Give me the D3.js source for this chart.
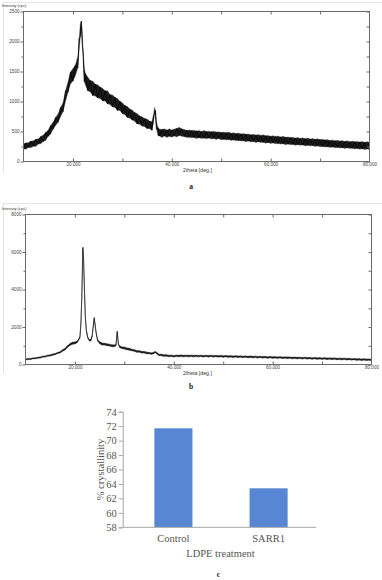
<!DOCTYPE html>
<html><head><meta charset="utf-8">
<script src="https://cdn.jsdelivr.net/npm/d3@7"></script>
<style>body{margin:0;background:#fff}svg{display:block}</style>
</head><body>
<svg id="chart" width="382" height="580"></svg>
<script>
// ---------- Panel a : XRD pattern (control) ----------
const aAngle=[10,10.5,11,11.5,12,12.5,13,13.5,14,14.5,15,15.5,16,16.5,17,17.5,18,18.5,19,19.5,20,20.5,21,21.25,21.5,21.7,21.9,22.1,22.3,22.5,23,23.5,24,24.5,25,25.5,26,26.5,27,27.5,28,28.5,29,29.5,30,30.5,31,31.5,32,32.5,33,33.5,34,34.5,35,35.5,36,36.3,36.5,36.7,36.9,37.2,37.5,38,38.5,39,39.5,40,40.5,41,41.5,42,42.5,43,43.5,44,44.5,45,45.5,46,46.5,47,47.5,48,48.5,49,49.5,50,50.5,51,51.5,52,52.5,53,53.5,54,54.5,55,55.5,56,56.5,57,57.5,58,58.5,59,59.5,60,60.5,61,61.5,62,62.5,63,63.5,64,64.5,65,65.5,66,66.5,67,67.5,68,68.5,69,69.5,70,70.5,71,71.5,72,72.5,73,73.5,74,74.5,75,75.5,76,76.5,77,77.5,78,78.5,79,79.5,80];
const aLow=[210,205,235,230,255,250,290,295,335,350,420,455,540,600,655,745,830,1000,1150,1290,1340,1430,1560,1850,2080,2190,1950,1600,1330,1280,1180,1160,1100,1090,1060,1050,1010,1010,960,950,910,900,850,850,800,780,735,720,690,670,625,620,590,580,550,545,520,640,790,700,540,425,425,400,425,400,420,405,425,410,435,420,415,400,405,395,400,385,395,385,390,380,390,375,385,365,385,360,370,360,365,350,360,345,350,340,345,330,340,325,335,315,330,315,320,305,315,300,310,295,300,290,295,280,290,280,285,270,280,270,275,260,270,260,265,250,260,245,250,240,245,235,240,228,235,225,230,218,228,215,222,210,218,205,212,200,208,198];
const aHigh=[300,310,315,340,345,370,380,415,440,485,525,600,660,735,795,900,985,1180,1330,1490,1550,1610,1760,2050,2290,2340,2150,1800,1560,1470,1410,1350,1340,1290,1280,1240,1220,1180,1180,1115,1110,1070,1050,1005,980,935,920,875,860,815,800,760,745,715,710,675,665,770,905,850,665,565,540,535,545,525,545,525,540,550,570,545,535,520,525,515,520,510,515,500,515,500,505,495,505,490,495,485,490,480,490,470,480,465,475,460,465,455,460,445,455,440,450,435,445,430,435,420,430,415,425,410,420,405,410,400,405,390,400,385,395,380,390,375,385,370,380,365,370,360,365,350,360,345,355,340,350,335,345,330,340,330,335,325,335,320,330,320];
const aYTicks=[0,500,1000,1500,2000,2500];
const aYMinor=[250,750,1250,1750,2250];

// ---------- Panel b : XRD pattern (SARR1 treated) ----------
const bAngle=[10,10.5,11,11.5,12,12.5,13,13.5,14,14.5,15,15.5,16,16.5,17,17.5,18,18.5,19,19.5,20,20.5,21,21.2,21.4,21.6,21.75,21.9,22.1,22.3,22.6,22.9,23.2,23.5,23.7,23.9,24.1,24.3,24.6,25,25.5,26,26.5,27,27.5,28,28.3,28.55,28.8,29,29.5,30,30.5,31,31.5,32,32.5,33,33.5,34,34.5,35,35.5,36,36.2,36.5,37,37.5,38,38.5,39,39.5,40,40.5,41,41.5,42,42.5,43,43.5,44,44.5,45,45.5,46,46.5,47,47.5,48,48.5,49,49.5,50,50.5,51,51.5,52,52.5,53,53.5,54,54.5,55,55.5,56,56.5,57,57.5,58,58.5,59,59.5,60,60.5,61,61.5,62,62.5,63,63.5,64,64.5,65,65.5,66,66.5,67,67.5,68,68.5,69,69.5,70,70.5,71,71.5,72,72.5,73,73.5,74,74.5,75,75.5,76,76.5,77,77.5,78,78.5,79,79.5,80];
const bLow=[240,260,270,290,305,325,350,375,405,430,460,485,525,570,620,695,780,900,1020,1070,1100,1160,1400,2050,3650,6150,5550,4150,2550,1750,1400,1240,1250,1470,2000,2400,2050,1600,1250,1100,1040,1030,1000,980,950,940,1000,1670,1050,890,850,810,790,750,730,690,660,640,615,600,575,555,545,565,640,565,475,455,440,430,420,410,405,410,420,415,415,420,410,418,410,415,408,412,405,410,402,408,400,405,395,400,390,395,385,388,380,382,372,378,368,372,365,366,358,360,352,355,345,348,340,342,335,337,328,331,322,325,316,319,310,313,305,307,298,301,292,295,286,289,280,283,275,277,268,271,262,265,256,259,250,253,245,245,236,238,228,230,220,222,212,214,205];
const bHigh=[300,320,335,350,370,390,415,445,470,500,530,555,600,645,700,785,880,1000,1140,1190,1220,1270,1500,2150,3750,6250,5650,4250,2650,1850,1500,1340,1350,1570,2100,2500,2150,1700,1350,1220,1160,1130,1120,1080,1070,1040,1100,1770,1150,1010,950,930,890,870,830,790,760,740,715,690,675,645,635,655,720,655,565,545,530,520,510,500,490,500,510,505,505,500,505,498,502,495,500,495,498,490,495,488,492,485,488,480,485,475,478,470,472,465,468,458,460,452,455,448,450,442,443,436,438,430,432,425,428,418,420,412,415,406,408,400,402,394,396,388,390,382,384,376,378,370,372,364,366,358,360,352,354,346,348,340,342,334,336,328,326,318,318,310,310,302,302,294,295];
const bYTicks=[0,2000,4000,6000,8000];
const bYMinor=[1000,3000,5000,7000];

const xMajor=[20,40,60,80];
const xAll=[20,30,40,50,60,70];

// ---------- Panel c : % crystallinity ----------
const treatments=["Control","SARR1"];
const crystallinity=[71.7,63.4];
const cYTicks=[58,60,62,64,66,68,70,72,74];

const svg=d3.select("#chart");
const SANS="'Liberation Sans', Arial, sans-serif";
const SERIF="'Liberation Serif', 'Times New Roman', serif";

function xrdPanel(o){
  const g=svg.append("g");
  const x=d3.scaleLinear([10,80],[o.x0,o.x1]);
  const y=d3.scaleLinear([0,o.yMax],[o.y1,o.y0]);
  g.append("path").attr("d",`M3.5,${o.wy1}V${o.wy0}H382`).attr("fill","none").attr("stroke","#e4e4e4");
  const pts=o.angle.map((a,i)=>({a,lo:o.low[i],hi:o.high[i]}));
  g.append("path").datum(pts)
    .attr("d",d3.area().x(d=>x(d.a)).y0(d=>y(d.lo)).y1(d=>y(d.hi)))
    .attr("fill",o.fill).attr("stroke","#666").attr("stroke-width",0.4);
  g.append("path").datum(pts)
    .attr("d",d3.line().x(d=>x(d.a)).y((d,i)=>y(i%2?d.hi:d.lo)))
    .attr("fill","none").attr("stroke","#000").attr("stroke-width",o.sw);
  const style=s=>{s.select(".domain").remove();s.selectAll("line").attr("stroke","#6a6a6a");
    s.selectAll("text").attr("fill","#444").attr("font-family",SANS).attr("font-size",4.6);};
  g.append("g").attr("transform",`translate(${o.x0},0)`)
    .call(d3.axisLeft(y).tickValues(o.yTicks).tickSize(3).tickPadding(1).tickFormat(d3.format("d"))).call(style);
  g.append("g").attr("transform",`translate(${o.x0},0)`)
    .call(d3.axisLeft(y).tickValues(o.yMinor).tickSize(2).tickFormat("")).call(style);
  g.append("g").attr("transform",`translate(${o.x1},0)`)
    .call(d3.axisRight(y).tickValues(o.yTicks.concat(o.yMinor)).tickSize(-3).tickFormat("")).call(style);
  g.append("g").attr("transform",`translate(0,${o.y0})`)
    .call(d3.axisTop(x).tickValues(xAll).tickSize(-3).tickFormat("")).call(style);
  g.append("g").attr("transform",`translate(0,${o.y1})`)
    .call(d3.axisBottom(x).tickValues(xAll).tickSize(-3).tickFormat("")).call(style);
  g.append("g").attr("transform",`translate(0,${o.y1})`)
    .call(d3.axisBottom(x).tickValues(xMajor).tickSize(0).tickPadding(1.2).tickFormat(d3.format(".3f"))).call(style);
  g.append("rect").attr("x",o.x0).attr("y",o.y0).attr("width",o.x1-o.x0).attr("height",o.y1-o.y0)
    .attr("fill","none").attr("stroke","#6a6a6a").attr("stroke-width",1);
  g.append("text").attr("x",2).attr("y",o.y0-4.5).text("Intensity (cps)")
    .attr("font-family",SANS).attr("font-size",3.9).attr("fill","#333");
  g.append("text").attr("x",183).attr("y",o.y1+10.5).text("2theta [deg.]")
    .attr("font-family",SANS).attr("font-size",5.2).attr("fill","#333");
  g.append("text").attr("x",191).attr("y",o.labY).attr("text-anchor","middle").text(o.label)
    .attr("font-family",SERIF).attr("font-weight","bold").attr("font-size",7.5).attr("fill","#222");
}

xrdPanel({angle:aAngle,low:aLow,high:aHigh,x0:23.5,x1:369.5,y0:11.5,y1:161.5,yMax:2500,
  yTicks:aYTicks,yMinor:aYMinor,wy0:2.5,wy1:173,labY:189,label:"a",sw:0.7,fill:"#1c1c1c"});
xrdPanel({angle:bAngle,low:bLow,high:bHigh,x0:25.5,x1:371.5,y0:214.5,y1:364.5,yMax:8000,
  yTicks:bYTicks,yMinor:bYMinor,wy0:203.5,wy1:374,labY:389,label:"b",sw:0.6,fill:"#222"});

// ---------- Panel c ----------
const gc=svg.append("g");
const xc=d3.scaleBand().domain(treatments).range([125.8,316.2]).paddingInner(0.6).paddingOuter(0.3);
const yc=d3.scaleLinear([58,74],[527.3,411.7]);
gc.selectAll("rect.bar").data(treatments).join("rect").attr("class","bar")
  .attr("x",d=>xc(d)).attr("width",xc.bandwidth())
  .attr("y",(d,i)=>yc(crystallinity[i])).attr("height",(d,i)=>yc(58)-yc(crystallinity[i]))
  .attr("fill","#5787d2");
const ya=gc.append("g").attr("transform","translate(122.7,0)")
  .call(d3.axisLeft(yc).tickValues(cYTicks).tickSize(4).tickPadding(2).tickFormat(d3.format("d")));
ya.select(".domain").attr("stroke","#a6a6a6");
ya.selectAll("line").attr("stroke","#a6a6a6");
ya.selectAll("text").attr("font-family",SERIF).attr("font-size",10.5).attr("fill","#555");
gc.append("line").attr("x1",122.7).attr("x2",316.2).attr("y1",527.3).attr("y2",527.3).attr("stroke","#a6a6a6");
const xa=gc.append("g").attr("transform","translate(0,527.3)")
  .call(d3.axisBottom(xc).tickSize(0).tickPadding(7.5));
xa.select(".domain").remove();
xa.selectAll("text").attr("font-family",SERIF).attr("font-size",10.5).attr("fill","#555");
gc.append("text").attr("x",220.5).attr("y",557).attr("text-anchor","middle").text("LDPE treatment")
  .attr("font-family",SERIF).attr("font-size",10.5).attr("fill","#555");
gc.append("text").attr("transform","translate(104,469.5) rotate(-90)").attr("text-anchor","middle")
  .text("% crystallinity").attr("font-family",SERIF).attr("font-size",10.5).attr("fill","#555");
gc.append("text").attr("x",218.5).attr("y",577).attr("text-anchor","middle").text("c")
  .attr("font-family",SERIF).attr("font-weight","bold").attr("font-size",7.5).attr("fill","#222");
</script>
</body></html>
